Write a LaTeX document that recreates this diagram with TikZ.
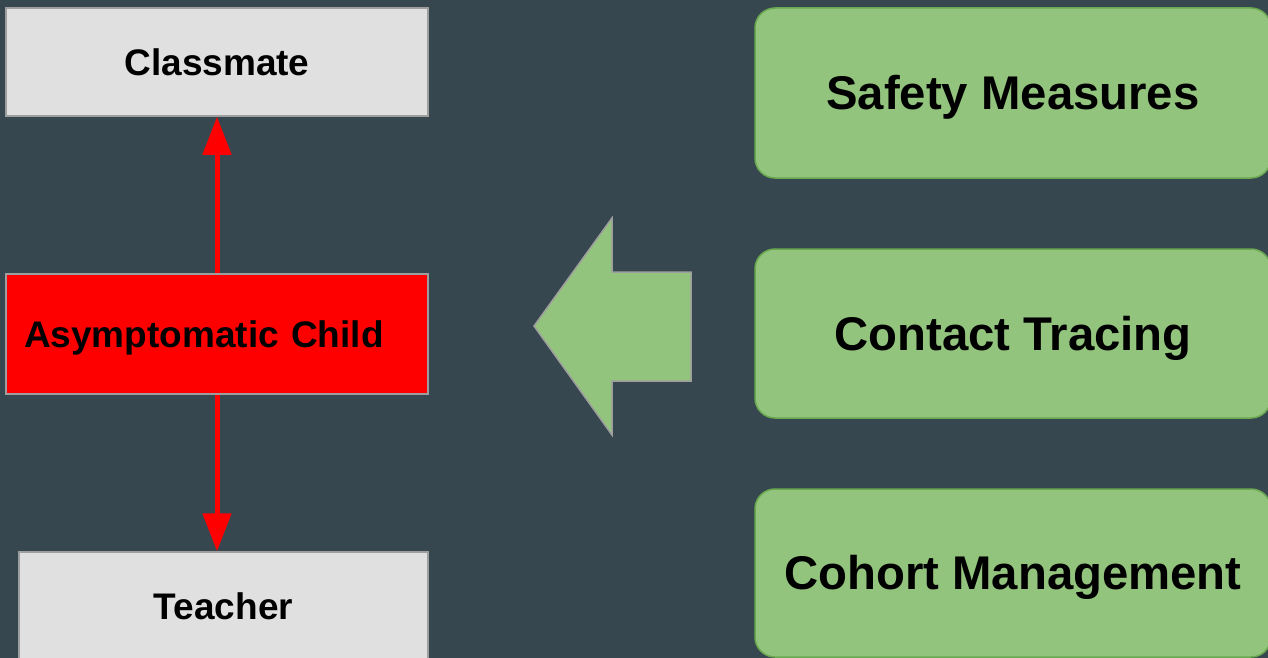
\documentclass[tikz,border=0pt]{standalone}
\usepackage{fontspec}
\setmainfont{Liberation Sans}
\usepackage{tikz}
\usetikzlibrary{arrows.meta}

\definecolor{bgslate}{HTML}{37474F}
\definecolor{boxgrey}{HTML}{E0E0E0}
\definecolor{edgegrey}{HTML}{9E9E9E}
\definecolor{childred}{HTML}{FF0000}
\definecolor{leafgreen}{HTML}{93C47D}
\definecolor{edgegreen}{HTML}{6AA84F}

\tikzset{
  greybox/.style={draw=edgegrey,line width=1.5pt,fill=boxgrey,inner sep=0pt,
    text height=26.5pt,text depth=0pt,font=\bfseries\fontsize{37}{44}\selectfont},
  redbox/.style={draw=edgegrey,line width=1.5pt,fill=childred,inner ysep=0pt,
    text height=26.5pt,text depth=0pt,font=\bfseries\fontsize{37}{44}\selectfont},
  greenbox/.style={draw=edgegreen,line width=1.5pt,fill=leafgreen,rounded corners=20pt,
    minimum width=516pt,inner sep=0pt,text height=33.7pt,text depth=0pt,
    font=\bfseries\fontsize{47.3}{56}\selectfont},
  redarrow/.style={draw=childred,line width=5pt,-{Triangle[width=28pt,length=38pt]}},
  bigarrow/.style={draw=edgegrey,line width=1.5pt,fill=leafgreen,line join=miter}
}

\begin{document}
\begin{tikzpicture}[x=1pt,y=-1pt]
 \fill[bgslate] (0,0) rectangle (1268,658);
 \useasboundingbox (0,0) rectangle (1268,658);
 % left column
 \node[greybox,minimum width=422pt,minimum height=108pt] (classmate) at (217,62) {Classmate};
 \node[redbox,text width=386pt,inner xsep=18pt,minimum height=120pt,align=left] (child) at (217,334) {Asymptomatic Child};
 \node[greybox,minimum width=409pt,minimum height=108pt] (teacher) at (223.5,606) {Teacher};
 \draw[redarrow] (child.north) -- (classmate.south);
 \draw[redarrow] (child.south) -- (child.south |- teacher.north);
 % big arrow
 \draw[bigarrow] (534,326) -- (612,218) -- (612,272) -- (691,272) -- (691,381) -- (612,381) -- (612,435) -- cycle;
 % right column
 \node[greenbox,minimum height=170pt] (safety) at (1013,93) {Safety Measures};
 \node[greenbox,minimum height=169pt] (tracing) at (1013,333.5) {Contact Tracing};
 \node[greenbox,minimum height=168pt] (cohort) at (1013,573) {Cohort Management};
\end{tikzpicture}
\end{document}
